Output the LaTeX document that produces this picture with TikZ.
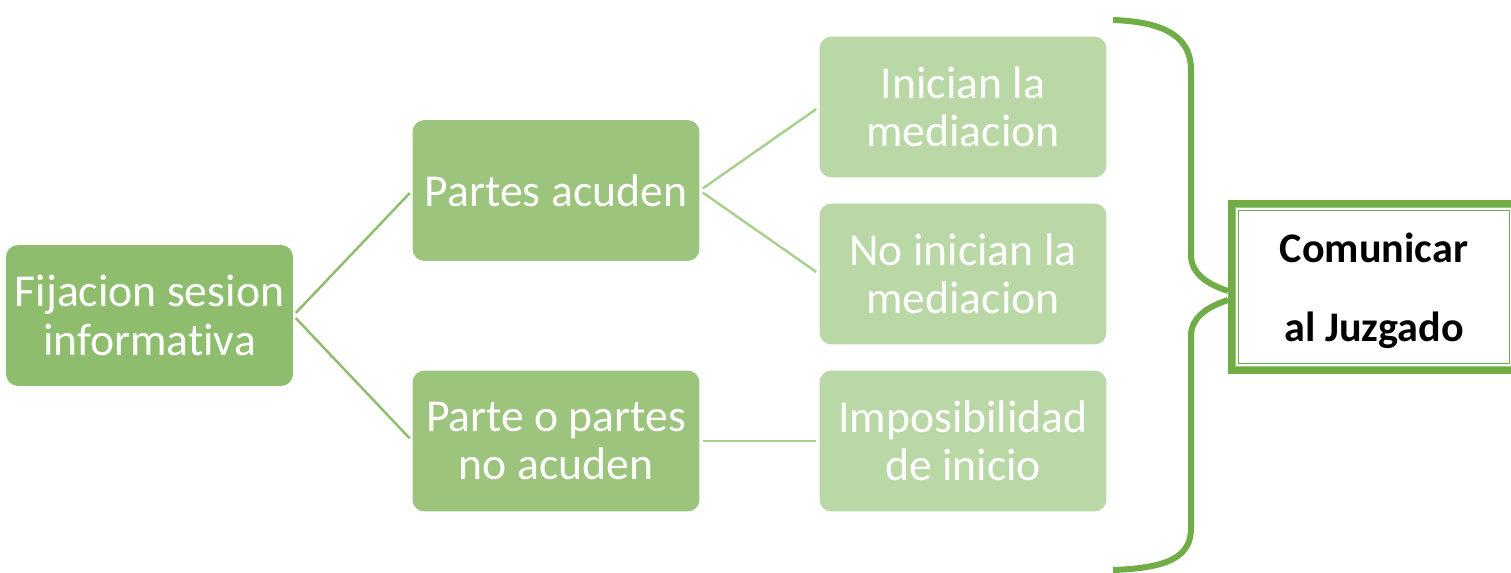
\documentclass[tikz,border=0pt]{standalone}
\usepackage{fontspec}
\setmainfont{Carlito}[Ligatures=NoCommon]
\definecolor{NivelUno}{RGB}{142,190,109}
\definecolor{NivelDos}{RGB}{157,196,125}
\definecolor{NivelTres}{RGB}{185,216,166}
\definecolor{LineaTres}{RGB}{169,207,145}
\definecolor{Llave}{RGB}{112,173,71}
\tikzset{
  caja/.style={rounded corners=0.24cm, minimum width=5.74cm, minimum height=2.82cm,
    inner sep=0pt, text=white, align=center, font=\fontsize{26}{27.5}\selectfont},
  juzgado/.style={draw=Llave, line width=0.13cm, minimum width=5.7cm, minimum height=3.34cm,
    inner sep=0pt, align=center, font=\bfseries\fontsize{24}{45}\selectfont},
  linea/.style={line width=1.4pt, shorten <=2pt, shorten >=2pt},
}

\begin{document}
\begin{tikzpicture}[x=0.02cm, y=-0.02cm]
\useasboundingbox (0,0) rectangle (1511,572);

\coordinate (F) at (149.5,315.5);
\coordinate (PA) at (556,190.5);
\coordinate (PN) at (556,441);
\coordinate (IM) at (963,107);
\coordinate (NI) at (963,274);
\coordinate (IP) at (963,441);
\coordinate (J) at (1374,287);

% Cajas del arbol
\node[caja, fill=NivelUno] (fijacion) at (F) {Fijacion sesion\\informativa};
\node[caja, fill=NivelDos] (acuden) at (PA) {Partes acuden};
\node[caja, fill=NivelDos] (noacuden) at (PN) {Parte o partes\\no acuden};
\node[caja, fill=NivelTres] (inician) at (IM) {Inician la\\mediacion};
\node[caja, fill=NivelTres] (noinician) at (NI) {No inician la\\mediacion};
\node[caja, fill=NivelTres] (imposible) at (IP) {Imposibilidad\\de inicio};

% Conectores
\draw[linea, NivelUno] (fijacion.east) -- (acuden.west);
\draw[linea, NivelUno] (fijacion.east) -- (noacuden.west);
\draw[linea, LineaTres] (acuden.east) -- (inician.west);
\draw[linea, LineaTres] (acuden.east) -- (noinician.west);
\draw[linea, LineaTres] (noacuden.east) -- (imposible.west);

% Caja final con doble borde
\node[juzgado, text depth=-0.2cm] (juzgado) at (J) {Comunicar\\al Juzgado};
\draw[Llave!70, line width=0.6pt] ([shift={(7.5,7.5)}]juzgado.north west)
  rectangle ([shift={(-7.5,-7.5)}]juzgado.south east);
\draw[Llave, line width=0.6pt] ([shift={(10.5,10.5)}]juzgado.north west)
  rectangle ([shift={(-10.5,-10.5)}]juzgado.south east);

% Llave que junta las tres salidas
\coordinate (arriba) at (1113,20);
\coordinate (abajo) at (1113,570);
\coordinate (punta1) at (1228,291);
\coordinate (punta2) at (1228,300);
\draw[Llave, line width=0.12cm]
  (arriba) .. controls (1170,22) and (1191,40) .. (1191,70)
  -- (1191,255) .. controls (1191,275) and (1210,285) .. (punta1);
\draw[Llave, line width=0.12cm]
  (punta2) .. controls (1210,306) and (1191,316) .. (1191,336)
  -- (1191,528) .. controls (1191,556) and (1170,568) .. (abajo);

\end{tikzpicture}
\end{document}
